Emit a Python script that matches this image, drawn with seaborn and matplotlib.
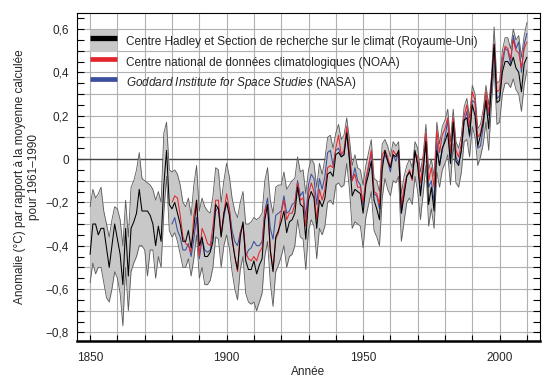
import numpy as np
import matplotlib
matplotlib.use("Agg")
import matplotlib.pyplot as plt
import seaborn as sns
from matplotlib.patches import Patch, Rectangle
from matplotlib.lines import Line2D
from matplotlib.legend_handler import HandlerPatch
from matplotlib.ticker import MultipleLocator, FuncFormatter

# annees
years = np.arange(1850, 2011)
years_us = np.arange(1880, 2011)

# Hadley / CRU (1850-2010) + bande d'incertitude
hadley = [-0.44, -0.30, -0.30, -0.35, -0.32, -0.32, -0.41, -0.50, -0.40, -0.30,
          -0.37, -0.44, -0.58, -0.32, -0.54, -0.32, -0.29, -0.25, -0.14, -0.24,
          -0.24, -0.24, -0.26, -0.30, -0.40, -0.31, -0.38, -0.12, 0.04, -0.21,
          -0.23, -0.20, -0.25, -0.30, -0.38, -0.38, -0.33, -0.41, -0.32, -0.19,
          -0.40, -0.36, -0.45, -0.45, -0.43, -0.38, -0.21, -0.23, -0.36, -0.25,
          -0.20, -0.26, -0.37, -0.45, -0.51, -0.36, -0.29, -0.47, -0.51, -0.51,
          -0.47, -0.53, -0.49, -0.46, -0.28, -0.21, -0.42, -0.52, -0.36, -0.33,
          -0.29, -0.24, -0.34, -0.29, -0.28, -0.25, -0.13, -0.21, -0.22, -0.37,
          -0.19, -0.15, -0.18, -0.32, -0.19, -0.22, -0.18, -0.07, -0.06, -0.08,
          0.02, 0.03, 0.01, 0.02, 0.12, 0.00, -0.17, -0.14, -0.15, -0.16,
          -0.25, -0.12, -0.07, -0.01, -0.19, -0.23, -0.28, -0.05, 0.04, -0.01,
          -0.04, 0.02, 0.01, 0.04, -0.25, -0.17, -0.08, -0.06, -0.09, 0.04,
          -0.03, -0.17, -0.05, 0.08, -0.21, -0.13, -0.24, 0.04, -0.03, 0.05,
          0.08, 0.12, -0.02, 0.17, -0.01, -0.03, 0.04, 0.18, 0.19, 0.11,
          0.25, 0.20, 0.06, 0.11, 0.17, 0.27, 0.14, 0.35, 0.53, 0.26,
          0.27, 0.40, 0.45, 0.45, 0.43, 0.47, 0.42, 0.40, 0.31, 0.44,
          0.47]

hadley_high = [-0.22, -0.14, -0.18, -0.16, -0.13, -0.24, -0.30, -0.36, -0.28, -0.22,
               -0.23, -0.28, -0.40, -0.19, -0.36, -0.13, -0.10, -0.05, 0.03, -0.09,
               -0.10, -0.11, -0.12, -0.14, -0.19, -0.15, -0.20, 0.12, 0.17, -0.05,
               -0.06, -0.05, -0.07, -0.12, -0.20, -0.22, -0.18, -0.26, -0.12, -0.03,
               -0.24, -0.18, -0.22, -0.24, -0.25, -0.17, -0.04, -0.05, -0.20, -0.10,
               -0.02, -0.08, -0.18, -0.24, -0.27, -0.20, -0.15, -0.30, -0.30, -0.29,
               -0.27, -0.28, -0.27, -0.25, -0.10, -0.04, -0.19, -0.25, -0.13, -0.12,
               -0.12, -0.06, -0.14, -0.12, -0.10, -0.09, 0.01, -0.06, -0.05, -0.16,
               -0.05, 0.00, -0.02, -0.13, -0.02, -0.07, 0.00, 0.10, 0.11, 0.05,
               0.12, 0.16, 0.09, 0.11, 0.19, 0.09, -0.03, 0.02, -0.04, -0.05,
               -0.12, -0.03, 0.03, 0.09, -0.09, -0.10, -0.15, 0.07, 0.09, 0.06,
               0.01, 0.08, 0.06, 0.08, -0.16, -0.08, -0.03, 0.00, -0.04, 0.08,
               0.05, -0.06, 0.02, 0.16, -0.05, 0.00, -0.08, 0.17, 0.07, 0.15,
               0.18, 0.23, 0.08, 0.23, 0.08, 0.05, 0.11, 0.24, 0.28, 0.19,
               0.34, 0.30, 0.14, 0.16, 0.23, 0.34, 0.25, 0.38, 0.61, 0.35,
               0.36, 0.50, 0.56, 0.56, 0.51, 0.60, 0.55, 0.57, 0.47, 0.57,
               0.63]

hadley_low = [-0.57, -0.48, -0.53, -0.50, -0.50, -0.57, -0.64, -0.66, -0.60, -0.52,
              -0.55, -0.62, -0.77, -0.50, -0.70, -0.52, -0.48, -0.45, -0.40, -0.40,
              -0.42, -0.54, -0.42, -0.42, -0.55, -0.45, -0.50, -0.25, -0.08, -0.33,
              -0.36, -0.34, -0.38, -0.44, -0.50, -0.50, -0.46, -0.54, -0.46, -0.35,
              -0.55, -0.50, -0.58, -0.58, -0.56, -0.50, -0.36, -0.37, -0.50, -0.40,
              -0.35, -0.41, -0.52, -0.60, -0.65, -0.51, -0.45, -0.62, -0.66, -0.67,
              -0.66, -0.70, -0.66, -0.62, -0.45, -0.38, -0.57, -0.68, -0.52, -0.49,
              -0.45, -0.40, -0.50, -0.45, -0.44, -0.40, -0.28, -0.36, -0.37, -0.51,
              -0.33, -0.28, -0.31, -0.46, -0.32, -0.35, -0.31, -0.20, -0.19, -0.21,
              -0.12, -0.11, -0.13, -0.12, -0.02, -0.14, -0.32, -0.29, -0.30, -0.31,
              -0.41, -0.27, -0.21, -0.15, -0.33, -0.36, -0.40, -0.18, -0.09, -0.14,
              -0.17, -0.10, -0.11, -0.08, -0.38, -0.29, -0.20, -0.18, -0.21, -0.08,
              -0.15, -0.28, -0.16, -0.03, -0.31, -0.23, -0.32, -0.06, -0.13, -0.05,
              -0.02, 0.02, -0.12, 0.07, -0.11, -0.13, -0.06, 0.08, 0.09, 0.01,
              0.15, 0.10, -0.03, 0.01, 0.07, 0.17, 0.04, 0.25, 0.43, 0.16,
              0.17, 0.30, 0.35, 0.35, 0.33, 0.37, 0.32, 0.30, 0.22, 0.34,
              0.41]

# NOAA (1880-2010)
noaa = [-0.20, -0.17, -0.18, -0.26, -0.36, -0.39, -0.40, -0.43, -0.26, -0.19,
        -0.45, -0.32, -0.35, -0.39, -0.40, -0.31, -0.19, -0.19, -0.35, -0.25,
        -0.16, -0.23, -0.36, -0.45, -0.52, -0.34, -0.30, -0.43, -0.46, -0.47,
        -0.45, -0.47, -0.43, -0.41, -0.24, -0.21, -0.42, -0.51, -0.37, -0.34,
        -0.25, -0.19, -0.28, -0.25, -0.25, -0.21, -0.11, -0.19, -0.18, -0.31,
        -0.16, -0.11, -0.15, -0.28, -0.14, -0.19, -0.14, -0.04, -0.03, -0.04,
        0.05, 0.11, 0.02, 0.04, 0.15, 0.03, -0.10, -0.07, -0.13, -0.13,
        -0.20, -0.09, -0.03, 0.04, -0.15, -0.16, -0.21, 0.02, 0.04, 0.01,
        -0.04, 0.04, 0.02, 0.03, -0.22, -0.13, -0.08, -0.05, -0.10, 0.03,
        0.01, -0.11, -0.02, 0.12, -0.10, -0.04, -0.13, 0.13, 0.03, 0.11,
        0.14, 0.19, 0.03, 0.19, 0.04, 0.01, 0.07, 0.20, 0.25, 0.15,
        0.31, 0.27, 0.10, 0.12, 0.19, 0.31, 0.21, 0.35, 0.53, 0.31,
        0.32, 0.46, 0.52, 0.51, 0.46, 0.55, 0.50, 0.49, 0.42, 0.51,
        0.54]

# NASA GISS (1880-2010)
nasa = [-0.30, -0.27, -0.33, -0.36, -0.42, -0.42, -0.39, -0.45, -0.37, -0.27,
        -0.46, -0.37, -0.42, -0.43, -0.42, -0.35, -0.24, -0.22, -0.35, -0.27,
        -0.20, -0.23, -0.33, -0.38, -0.40, -0.34, -0.30, -0.45, -0.42, -0.41,
        -0.38, -0.40, -0.40, -0.38, -0.24, -0.18, -0.32, -0.37, -0.26, -0.25,
        -0.24, -0.17, -0.25, -0.24, -0.21, -0.20, -0.10, -0.17, -0.15, -0.27,
        -0.12, -0.07, -0.09, -0.21, -0.09, -0.14, -0.08, 0.03, 0.04, -0.03,
        0.04, 0.05, 0.01, 0.02, 0.13, -0.01, -0.10, -0.04, -0.10, -0.12,
        -0.22, -0.11, -0.04, 0.03, -0.16, -0.17, -0.23, -0.01, 0.02, -0.01,
        -0.06, 0.02, -0.01, 0.03, -0.25, -0.15, -0.08, -0.06, -0.09, 0.03,
        -0.02, -0.15, -0.05, 0.09, -0.13, -0.10, -0.20, 0.08, -0.03, 0.04,
        0.10, 0.18, -0.02, 0.17, 0.01, -0.02, 0.04, 0.17, 0.22, 0.10,
        0.27, 0.26, 0.05, 0.06, 0.15, 0.28, 0.20, 0.31, 0.51, 0.28,
        0.29, 0.43, 0.51, 0.50, 0.44, 0.57, 0.51, 0.54, 0.40, 0.53,
        0.58]

labels = ["Centre Hadley et Section de recherche sur le climat (Royaume-Uni)",
          "Centre national de données climatologiques (NOAA)",
          r"$\it{Goddard\ Institute\ for\ Space\ Studies}$ (NASA)"]

sns.set_theme(style="white")
plt.rcParams['font.family'] = ['Liberation Sans', 'DejaVu Sans']
plt.rcParams['mathtext.fontset'] = 'custom'
plt.rcParams['mathtext.it'] = 'Liberation Sans:italic'

fig = plt.figure(figsize=(5.6, 3.82), dpi=100)
ax = fig.add_axes([0.1375, 0.1073, 0.8268, 0.8587])

band_col = '#c8c8c8'
red = '#e3262e'
blue = '#3b4f9e'

ax.fill_between(years, hadley_low, hadley_high, color=band_col, lw=0, zorder=2)
sns.lineplot(x=years, y=hadley_low, color='#5a5a5a', lw=0.6, ax=ax, zorder=3)
sns.lineplot(x=years, y=hadley_high, color='#5a5a5a', lw=0.6, ax=ax, zorder=3)
sns.lineplot(x=years_us, y=nasa, color=blue, lw=0.75, ax=ax, zorder=4)
sns.lineplot(x=years_us, y=noaa, color=red, lw=0.75, ax=ax, zorder=5)
sns.lineplot(x=years, y=hadley, color='black', lw=0.75, ax=ax, zorder=6)

ax.axhline(0, color='#444444', lw=1.0, zorder=1.5)

ax.set_xlim(1845.2, 2014.8)
ax.set_ylim(-0.84, 0.674)

ax.xaxis.set_major_locator(MultipleLocator(10))
ax.xaxis.set_major_formatter(FuncFormatter(lambda v, p: str(int(round(v))) if int(round(v)) % 50 == 0 else ''))
ax.yaxis.set_major_locator(MultipleLocator(0.1))
ax.yaxis.set_minor_locator(MultipleLocator(0.05))


def yfmt(v, p):
    k = int(round(v * 10))
    if k % 2:
        return ''
    if k == 0:
        return '0'
    s = ('%.1f' % abs(v)).replace('.', ',')
    return ('\u2212' + s) if v < 0 else s


ax.yaxis.set_major_formatter(FuncFormatter(yfmt))
ax.grid(True, which='major', color='#b0b0b0', lw=0.8, zorder=1)
ax.set_axisbelow(True)

ax.tick_params(axis='y', which='both', direction='in', length=5, width=0.8,
               left=True, right=True, color='black', labelsize=8.5, pad=6)
ax.tick_params(axis='x', which='major', direction='in', length=4, width=0.8,
               bottom=True, top=False, color='black', labelsize=8.5, pad=8)

for s in ['left', 'right', 'top']:
    ax.spines[s].set_color('black')
    ax.spines[s].set_linewidth(0.8)
ax.spines['bottom'].set_color('black')
ax.spines['bottom'].set_linewidth(1.8)

ax.set_xlabel("Année", fontsize=8.5, labelpad=1)
ax.set_ylabel("Anomalie (°C) par rapport à la moyenne calculée\npour 1961\u20131990",
              fontsize=8.5, labelpad=4)


# grand rectangle gris de la legende Hadley
def tall_patch(legend, orig_handle, xdescent, ydescent, width, height, fontsize):
    return Rectangle((-xdescent, -ydescent + height / 2 - 8), width, 16)


handles = [(Patch(facecolor=band_col, edgecolor='none'),
            Line2D([], [], color='black', lw=3.8, solid_capstyle='butt')),
           Line2D([], [], color=red, lw=3.4, solid_capstyle='butt'),
           Line2D([], [], color=blue, lw=3.4, solid_capstyle='butt')]
leg = ax.legend(handles, labels, loc='upper left', bbox_to_anchor=(0.027, 0.945),
                frameon=False, fontsize=8.5, handlelength=2.35, handleheight=2.3,
                labelspacing=0.0, handletextpad=0.75, borderaxespad=0, borderpad=0,
                handler_map={Patch: HandlerPatch(patch_func=tall_patch)})

fig.savefig("out.png", dpi=100)
